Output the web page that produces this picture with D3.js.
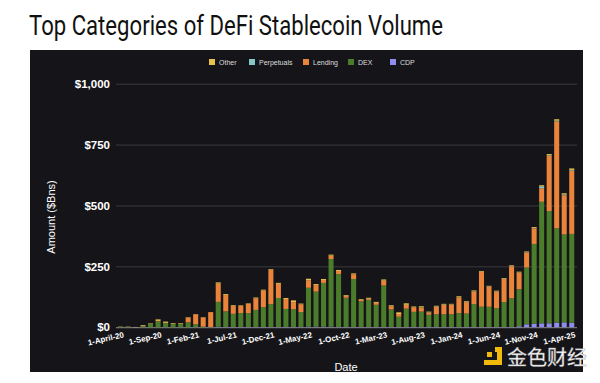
<!DOCTYPE html>
<html><head><meta charset="utf-8">
<script src="https://cdn.jsdelivr.net/npm/d3@7/dist/d3.min.js"></script>
<style>html,body{margin:0;padding:0;background:#fff;}svg{display:block;}</style>
</head><body>
<svg id="chart" width="600" height="383"></svg>
<script>
// ---- data (monthly, Apr 2020 .. Apr 2025), $Bn ----
const months = ["2020-04","2020-05","2020-06","2020-07","2020-08","2020-09","2020-10","2020-11","2020-12",
"2021-01","2021-02","2021-03","2021-04","2021-05","2021-06","2021-07","2021-08","2021-09","2021-10","2021-11","2021-12",
"2022-01","2022-02","2022-03","2022-04","2022-05","2022-06","2022-07","2022-08","2022-09","2022-10","2022-11","2022-12",
"2023-01","2023-02","2023-03","2023-04","2023-05","2023-06","2023-07","2023-08","2023-09","2023-10","2023-11","2023-12",
"2024-01","2024-02","2024-03","2024-04","2024-05","2024-06","2024-07","2024-08","2024-09","2024-10","2024-11","2024-12",
"2025-01","2025-02","2025-03","2025-04"];
const cdp = [0,0,0,0,0,0,0,0,0,0,0,0,0,2,1,1,1,1,1,1,1,1,1,1,1,2,2,2,2,1,1,1,1,1,1,1,1,1,1,1,1,1,1,1,1,1,1,1,1,1,1,1,1,4,12,14,16,16,19,20,18];
const dex = [2,2,0,4,14,24,17,13,13,20,12,2,1,102,64,54,57,57,70,81,94,119,74,73,61,160,144,180,278,217,120,197,105,111,91,170,72,42,75,62,63,50,52,52,52,57,55,94,83,83,77,102,118,152,233,328,499,461,387,361,365];
const lending = [0,0,0,0,0,2,1,0,2,19,41,39,61,75,67,32,30,38,48,69,140,58,41,29,32,31,27,12,14,13,8,19,6,5,8,20,13,11,16,19,17,9,31,39,40,64,47,51,143,82,69,95,131,68,62,64,56,227,439,161,260];
const perpetuals = [0,0,0,0,0,0,0,0,0,0,0,0,0,0,0,0,0,0,0,0,0,0,0,0,0,0,0,0,0,0,0,0,0,0,0,0,0,0,0,0,1,1,1,1,1,1,1,1,1,1,1,1,1,1,1,1,8,2,3,3,3];
const other = [1,1,1,4,2,6,5,3,2,2,1,0,0,5,4,3,2,2,3,3,3,4,4,7,3,6,4,4,4,4,3,4,3,4,4,5,4,7,6,3,4,3,3,3,2,4,3,4,3,3,2,3,3,3,3,4,4,5,6,5,6];
const tickMonths = ["2020-04","2020-09","2021-02","2021-07","2021-12","2022-05","2022-10","2023-03","2023-08","2024-01","2024-06","2024-11","2025-04"];
const tickLabels = ["1-April-20","1-Sep-20","1-Feb-21","1-Jul-21","1-Dec-21","1-May-22","1-Oct-22","1-Mar-23","1-Aug-23","1-Jan-24","1-Jun-24","1-Nov-24","1-Apr-25"];
const yTicks = [0,250,500,750,1000];
const seriesNames = ["CDP","DEX","Lending","Perpetuals","Other"];
const seriesColors = {CDP:"#8f8cf0",DEX:"#4b7c2b",Lending:"#e9843a",Perpetuals:"#86c6c6",Other:"#e8c24e"};
const legendOrder = ["Other","Perpetuals","Lending","DEX","CDP"];

const table = months.map((m,i)=>({month:m,CDP:cdp[i],DEX:dex[i],Lending:lending[i],Perpetuals:perpetuals[i],Other:other[i]}));

const svg = d3.select("#chart");
const W=600,H=383;

// title
svg.append("text").attr("x",29).attr("y",35)
  .attr("font-family","Roboto, 'Liberation Sans', sans-serif").attr("font-size",27).attr("font-weight",400)
  .attr("fill","#111").attr("textLength",414).attr("lengthAdjust","spacingAndGlyphs")
  .text("Top Categories of DeFi Stablecoin Volume");

// dark panel
svg.append("rect").attr("x",30).attr("y",50).attr("width",553).attr("height",322).attr("fill","#151519");

const x = d3.scaleBand().domain(months).range([116.7,575.5]).paddingInner(0.33).paddingOuter(0.165);
const y = d3.scaleLinear().domain([0,1000]).range([327.2,83.7]);

// gridlines
const yAxis = d3.axisLeft(y).tickValues(yTicks).tickFormat(d=>"$"+d3.format(",")(d)).tickSize(-461).tickPadding(6);
const gy = svg.append("g").attr("transform","translate(116,0)").call(yAxis);
gy.select(".domain").remove();
gy.selectAll(".tick line").attr("stroke",d=>d===0?"#8a8a8a":"#3a3a3e").attr("stroke-width",1);
gy.selectAll(".tick text").attr("fill","#fff").attr("font-family","'Liberation Sans', Arial, sans-serif")
  .attr("font-size",11.5).attr("font-weight","bold");

// bars
const stack = d3.stack().keys(seriesNames)(table);
svg.append("g").selectAll("g").data(stack).join("g").attr("fill",d=>seriesColors[d.key])
  .selectAll("rect").data(d=>d).join("rect")
  .attr("x",d=>x(d.data.month)).attr("width",x.bandwidth())
  .attr("y",d=>y(d[1])).attr("height",d=>Math.max(0,y(d[0])-y(d[1])));

// x axis labels
const xAxis = d3.axisBottom(x).tickValues(tickMonths).tickFormat((d,i)=>tickLabels[i]).tickSize(0).tickPadding(0);
const gx = svg.append("g").attr("transform","translate(0,327.2)").call(xAxis);
gx.select(".domain").remove();
gx.selectAll(".tick text").attr("fill","#fff").attr("font-family","'Liberation Sans', Arial, sans-serif")
  .attr("font-size",8).attr("font-weight","bold")
  .attr("text-anchor","end").attr("dy",0).attr("y",0)
  .attr("transform","translate(4,10) rotate(-13)");

// axis titles
svg.append("text").attr("transform","translate(55,217) rotate(-90)").attr("text-anchor","middle")
  .attr("fill","#fff").attr("font-family","'Liberation Sans', Arial, sans-serif").attr("font-size",11)
  .text("Amount ($Bns)");
svg.append("text").attr("x",346).attr("y",371).attr("text-anchor","middle")
  .attr("fill","#fff").attr("font-family","'Liberation Sans', Arial, sans-serif").attr("font-size",11)
  .text("Date");

// legend
const legX = [209,249,303,348,390];
const lg = svg.append("g").selectAll("g").data(legendOrder).join("g")
  .attr("transform",(d,i)=>`translate(${legX[i]},59)`);
lg.append("rect").attr("width",6).attr("height",6).attr("fill",d=>seriesColors[d]);
lg.append("text").attr("x",10).attr("y",5.5).attr("fill","#ddd")
  .attr("font-family","'Liberation Sans', Arial, sans-serif").attr("font-size",7).text(d=>d);

// watermark
const wm = svg.append("g");
wm.append("rect").attr("x",487).attr("y",352).attr("width",5).attr("height",5).attr("fill","#f0b90b");
wm.append("path").attr("d","M495,347 L502,347 L502,365 L484,365 L484,360 L497,360 L497,352 L495,352 Z").attr("fill","#f0b90b");
wm.append("text").attr("x",507).attr("y",365).attr("fill","#fff").attr("stroke","#9a9a9a").attr("stroke-width",0.4)
  .attr("font-family","'Noto Sans CJK SC', sans-serif").attr("font-size",20).text("金色财经");
</script>
</body></html>
